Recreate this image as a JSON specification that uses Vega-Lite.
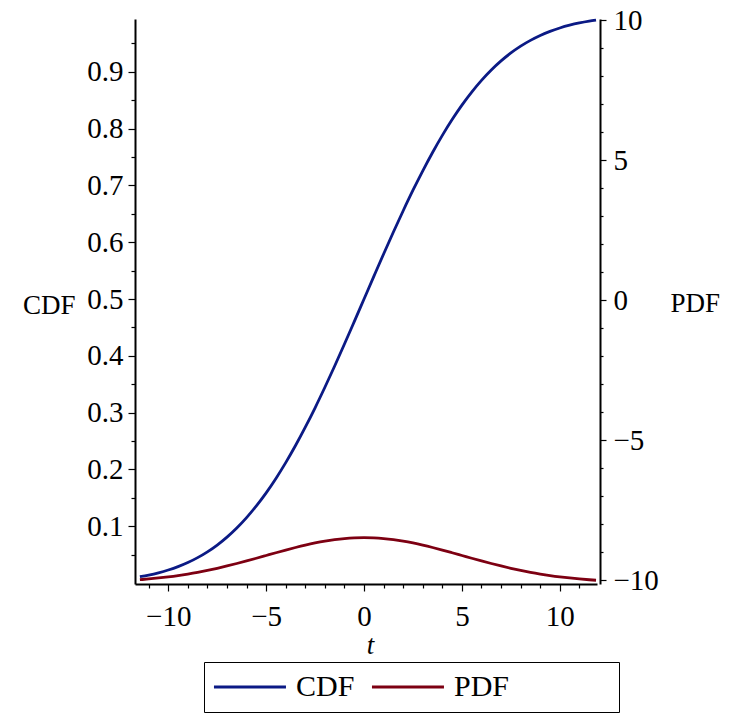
{
  "$schema": "https://vega.github.io/schema/vega-lite/v6.json",
  "autosize": "none",
  "width": 462,
  "height": 565,
  "padding": {"left": 135, "top": 19, "right": 136, "bottom": 131},
  "background": "white",
  "config": {
    "view": {"stroke": null},
    "axis": {
      "domainColor": "black",
      "domainWidth": 2,
      "tickColor": "black",
      "tickWidth": 1.2,
      "labelColor": "black",
      "labelFont": "Liberation Serif",
      "labelFontSize": 29,
      "titleFont": "Liberation Serif",
      "titleFontSize": 27,
      "titleFontWeight": "normal",
      "titleColor": "black",
      "grid": false
    }
  },
  "layer": [
    {
      "data": {
        "values": [
          {"t": -11.45, "s": "CDF", "v": 0.0110}, {"t": -11, "s": "CDF", "v": 0.0139}, {"t": -10.5, "s": "CDF", "v": 0.0179},
          {"t": -10, "s": "CDF", "v": 0.0228}, {"t": -9.5, "s": "CDF", "v": 0.0287}, {"t": -9, "s": "CDF", "v": 0.0359},
          {"t": -8.5, "s": "CDF", "v": 0.0446}, {"t": -8, "s": "CDF", "v": 0.0548}, {"t": -7.5, "s": "CDF", "v": 0.0668},
          {"t": -7, "s": "CDF", "v": 0.0808}, {"t": -6.5, "s": "CDF", "v": 0.0968}, {"t": -6, "s": "CDF", "v": 0.1151},
          {"t": -5.5, "s": "CDF", "v": 0.1357}, {"t": -5, "s": "CDF", "v": 0.1587}, {"t": -4.5, "s": "CDF", "v": 0.1841},
          {"t": -4, "s": "CDF", "v": 0.2119}, {"t": -3.5, "s": "CDF", "v": 0.2420}, {"t": -3, "s": "CDF", "v": 0.2743},
          {"t": -2.5, "s": "CDF", "v": 0.3085}, {"t": -2, "s": "CDF", "v": 0.3446}, {"t": -1.5, "s": "CDF", "v": 0.3821},
          {"t": -1, "s": "CDF", "v": 0.4207}, {"t": -0.5, "s": "CDF", "v": 0.4602}, {"t": 0, "s": "CDF", "v": 0.5},
          {"t": 0.5, "s": "CDF", "v": 0.5398}, {"t": 1, "s": "CDF", "v": 0.5793}, {"t": 1.5, "s": "CDF", "v": 0.6179},
          {"t": 2, "s": "CDF", "v": 0.6554}, {"t": 2.5, "s": "CDF", "v": 0.6915}, {"t": 3, "s": "CDF", "v": 0.7257},
          {"t": 3.5, "s": "CDF", "v": 0.7580}, {"t": 4, "s": "CDF", "v": 0.7881}, {"t": 4.5, "s": "CDF", "v": 0.8159},
          {"t": 5, "s": "CDF", "v": 0.8413}, {"t": 5.5, "s": "CDF", "v": 0.8643}, {"t": 6, "s": "CDF", "v": 0.8849},
          {"t": 6.5, "s": "CDF", "v": 0.9032}, {"t": 7, "s": "CDF", "v": 0.9192}, {"t": 7.5, "s": "CDF", "v": 0.9332},
          {"t": 8, "s": "CDF", "v": 0.9452}, {"t": 8.5, "s": "CDF", "v": 0.9554}, {"t": 9, "s": "CDF", "v": 0.9641},
          {"t": 9.5, "s": "CDF", "v": 0.9713}, {"t": 10, "s": "CDF", "v": 0.9772}, {"t": 10.5, "s": "CDF", "v": 0.9821},
          {"t": 11, "s": "CDF", "v": 0.9861}, {"t": 11.5, "s": "CDF", "v": 0.9893}, {"t": 11.85, "s": "CDF", "v": 0.9911},
          {"t": -11.45, "s": "PDF", "v": 0.00580}, {"t": -11, "s": "PDF", "v": 0.00710}, {"t": -10.5, "s": "PDF", "v": 0.00880},
          {"t": -10, "s": "PDF", "v": 0.01080}, {"t": -9.5, "s": "PDF", "v": 0.01312}, {"t": -9, "s": "PDF", "v": 0.01579},
          {"t": -8.5, "s": "PDF", "v": 0.01880}, {"t": -8, "s": "PDF", "v": 0.02218}, {"t": -7.5, "s": "PDF", "v": 0.02590},
          {"t": -7, "s": "PDF", "v": 0.02995}, {"t": -6.5, "s": "PDF", "v": 0.03428}, {"t": -6, "s": "PDF", "v": 0.03884},
          {"t": -5.5, "s": "PDF", "v": 0.04357}, {"t": -5, "s": "PDF", "v": 0.04839}, {"t": -4.5, "s": "PDF", "v": 0.05321},
          {"t": -4, "s": "PDF", "v": 0.05794}, {"t": -3.5, "s": "PDF", "v": 0.06245}, {"t": -3, "s": "PDF", "v": 0.06664},
          {"t": -2.5, "s": "PDF", "v": 0.07041}, {"t": -2, "s": "PDF", "v": 0.07366}, {"t": -1.5, "s": "PDF", "v": 0.07627},
          {"t": -1, "s": "PDF", "v": 0.07821}, {"t": -0.5, "s": "PDF", "v": 0.07940}, {"t": 0, "s": "PDF", "v": 0.07979},
          {"t": 0.5, "s": "PDF", "v": 0.07940}, {"t": 1, "s": "PDF", "v": 0.07821}, {"t": 1.5, "s": "PDF", "v": 0.07627},
          {"t": 2, "s": "PDF", "v": 0.07366}, {"t": 2.5, "s": "PDF", "v": 0.07041}, {"t": 3, "s": "PDF", "v": 0.06664},
          {"t": 3.5, "s": "PDF", "v": 0.06245}, {"t": 4, "s": "PDF", "v": 0.05794}, {"t": 4.5, "s": "PDF", "v": 0.05321},
          {"t": 5, "s": "PDF", "v": 0.04839}, {"t": 5.5, "s": "PDF", "v": 0.04357}, {"t": 6, "s": "PDF", "v": 0.03884},
          {"t": 6.5, "s": "PDF", "v": 0.03428}, {"t": 7, "s": "PDF", "v": 0.02995}, {"t": 7.5, "s": "PDF", "v": 0.02590},
          {"t": 8, "s": "PDF", "v": 0.02218}, {"t": 8.5, "s": "PDF", "v": 0.01880}, {"t": 9, "s": "PDF", "v": 0.01579},
          {"t": 9.5, "s": "PDF", "v": 0.01312}, {"t": 10, "s": "PDF", "v": 0.01080}, {"t": 10.5, "s": "PDF", "v": 0.00880},
          {"t": 11, "s": "PDF", "v": 0.00710}, {"t": 11.5, "s": "PDF", "v": 0.00566}, {"t": 11.85, "s": "PDF", "v": 0.00481}
        ]
      },
      "mark": {"type": "line", "strokeWidth": 2.8, "interpolate": "monotone"},
      "encoding": {
        "x": {
          "field": "t", "type": "quantitative",
          "scale": {"domain": [-11.7, 11.9], "nice": false, "zero": false},
          "axis": {
            "title": "t",
            "titleFontStyle": "italic",
            "titleX": 235,
            "titleY": 69,
            "titleBaseline": "alphabetic",
            "values": [-11, -10, -9, -8, -7, -6, -5, -4, -3, -2, -1, 0, 1, 2, 3, 4, 5, 6, 7, 8, 9, 10, 11],
            "labelExpr": "datum.value % 5 === 0 ? datum.label : ''",
            "tickSize": {"condition": {"test": "datum.value % 5 === 0", "value": 7}, "value": 4},
            "labelPadding": 11,
            "labelFlush": false,
            "labelOverlap": false
          }
        },
        "y": {
          "field": "v", "type": "quantitative",
          "scale": {"domain": [-0.0018, 0.993], "nice": false, "zero": false},
          "axis": {
            "title": "CDF",
            "titleAngle": 0,
            "titleAlign": "right",
            "titleBaseline": "alphabetic",
            "titleX": -60,
            "titleY": 294,
            "values": [0.05, 0.1, 0.15, 0.2, 0.25, 0.3, 0.35, 0.4, 0.45, 0.5, 0.55, 0.6, 0.65, 0.7, 0.75, 0.8, 0.85, 0.9, 0.95],
            "labelExpr": "abs(datum.value*10 - round(datum.value*10)) < 0.001 ? format(datum.value, '.1f') : ''",
            "tickSize": {"condition": {"test": "abs(datum.value*10 - round(datum.value*10)) < 0.001", "value": 7}, "value": 4},
            "labelPadding": 5,
            "labelFlush": false,
            "labelOverlap": false
          }
        },
        "color": {
          "field": "s", "type": "nominal",
          "scale": {"domain": ["CDF", "PDF", "spacer"], "range": ["#0b1a85", "#7d0012", "rgba(255,255,255,0)"]},
          "legend": {
            "title": null,
            "orient": "none",
            "legendX": 69,
            "legendY": 643,
            "direction": "horizontal",
            "symbolType": "M-1.67,0H6.33",
            "symbolSize": 324,
            "symbolStrokeWidth": 2.8,
            "labelOffset": 52,
            "labelFont": "Liberation Serif",
            "labelFontSize": 30,
            "labelColor": "black",
            "labelExpr": "datum.label === 'spacer' ? '' : datum.label",
            "columnPadding": 11,
            "padding": 10,
            "strokeColor": "black"
          }
        }
      }
    },
    {
      "data": {"values": [{"r": -10}, {"r": 10}]},
      "mark": {"type": "point", "opacity": 0},
      "encoding": {
        "y": {
          "field": "r", "type": "quantitative",
          "scale": {"domain": [-10.14, 10.04], "nice": false, "zero": false},
          "axis": {
            "orient": "right",
            "offset": 3,
            "title": "PDF",
            "titleAngle": 0,
            "titleAlign": "left",
            "titleBaseline": "alphabetic",
            "titleX": 70,
            "titleY": 292,
            "values": [-10, -9, -8, -7, -6, -5, -4, -3, -2, -1, 0, 1, 2, 3, 4, 5, 6, 7, 8, 9, 10],
            "labelExpr": "datum.value % 5 === 0 ? datum.label : ''",
            "tickSize": {"condition": {"test": "datum.value % 5 === 0", "value": 6}, "value": 3},
            "labelPadding": 7,
            "labelFlush": false,
            "labelOverlap": false
          }
        }
      }
    }
  ],
  "resolve": {"scale": {"y": "independent"}}
}
